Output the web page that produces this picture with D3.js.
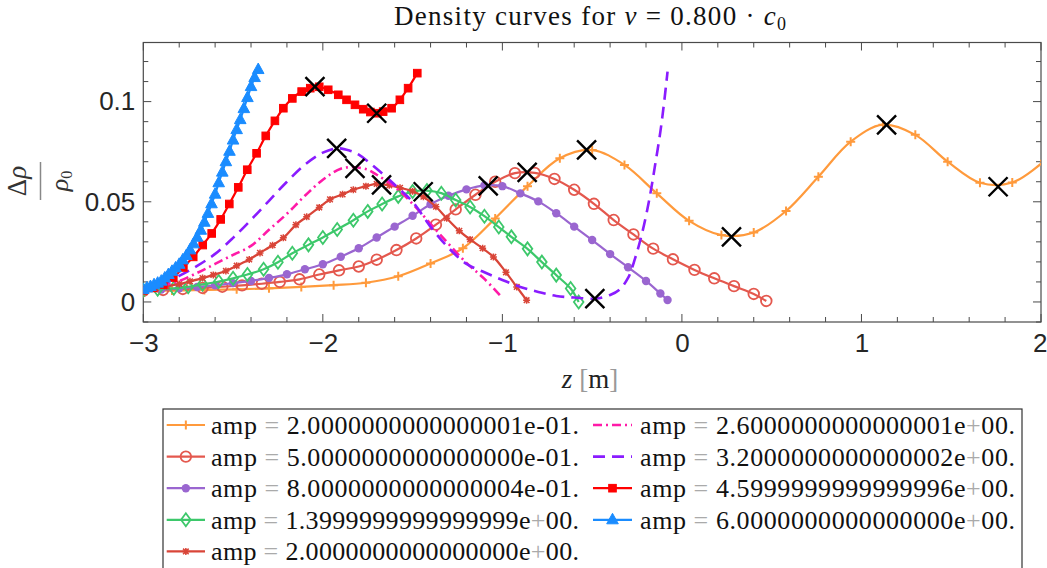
<!DOCTYPE html>
<html><head><meta charset="utf-8">
<script src="https://cdn.jsdelivr.net/npm/d3@7"></script>
<style>body{margin:0;background:#fff}svg{display:block}</style>
</head><body>
<svg id="chart" width="1047" height="568"></svg>
<script>
// ---------------- DATA ----------------
const ampLabels = [
  "2.0000000000000001e-01.", "5.0000000000000000e-01.", "8.0000000000000004e-01.",
  "1.3999999999999999e+00.", "2.0000000000000000e+00.", "2.6000000000000001e+00.",
  "3.2000000000000002e+00.", "4.5999999999999996e+00.", "6.0000000000000000e+00."
];
const xTicks = [-3, -2, -1, 0, 1, 2];
const yTicks = [0, 0.05, 0.1];

const zAmp02 = [-3.0,-2.84,-2.66,-2.48,-2.30,-2.12,-1.94,-1.76,-1.58,-1.40,-1.22,-1.04,-0.86,-0.68,-0.50,-0.32,-0.14,0.04,0.22,0.40,0.58,0.76,0.94,1.12,1.30,1.48,1.66,1.84,2.02];
const rhoAmp02 = [0.0055,0.0057,0.0060,0.0063,0.0068,0.0075,0.0084,0.0096,0.0128,0.0192,0.0268,0.0417,0.0578,0.0717,0.0758,0.0684,0.0542,0.0405,0.0334,0.0347,0.0454,0.0625,0.0800,0.0885,0.0834,0.0700,0.0595,0.0596,0.0705];

const zAmp05 = [-3.0,-2.89,-2.78,-2.67,-2.56,-2.45,-2.34,-2.24,-2.13,-2.02,-1.91,-1.80,-1.70,-1.59,-1.48,-1.37,-1.26,-1.15,-1.04,-0.93,-0.82,-0.71,-0.60,-0.49,-0.38,-0.27,-0.16,-0.05,0.07,0.18,0.29,0.40,0.47];
const rhoAmp05 = [0.0055,0.0060,0.0065,0.0070,0.0076,0.0083,0.0091,0.0100,0.0113,0.0137,0.0158,0.0177,0.0211,0.0259,0.0317,0.0386,0.0462,0.0535,0.0600,0.0643,0.0644,0.0614,0.0560,0.0490,0.0409,0.0337,0.0266,0.0213,0.0160,0.0118,0.0079,0.0040,0.0005];

const zAmp08 = [-3.0,-2.9,-2.8,-2.7,-2.6,-2.5,-2.4,-2.3,-2.2,-2.1,-2.0,-1.9,-1.8,-1.7,-1.6,-1.5,-1.4,-1.3,-1.2,-1.1,-1.0,-0.9,-0.8,-0.7,-0.6,-0.5,-0.4,-0.3,-0.2,-0.12,-0.08];
const rhoAmp08 = [0.0058,0.0062,0.0068,0.0075,0.0083,0.0094,0.0105,0.0120,0.0138,0.0163,0.0188,0.0226,0.0268,0.0322,0.0376,0.0430,0.0488,0.0530,0.0562,0.0582,0.0578,0.0542,0.0502,0.0443,0.0376,0.0309,0.0239,0.0173,0.0105,0.0042,0.0010];

const zAmp14 = [-3.0,-2.92,-2.83,-2.75,-2.67,-2.58,-2.50,-2.42,-2.33,-2.25,-2.17,-2.08,-2.00,-1.92,-1.83,-1.75,-1.67,-1.58,-1.50,-1.42,-1.34,-1.26,-1.18,-1.10,-1.02,-0.95,-0.86,-0.78,-0.70,-0.62,-0.575];
const rhoAmp14 = [0.0058,0.0063,0.0068,0.0076,0.0088,0.0102,0.0118,0.0137,0.0163,0.0198,0.0243,0.0285,0.0322,0.0362,0.0408,0.0452,0.0489,0.0527,0.0551,0.0556,0.0543,0.0509,0.0474,0.0428,0.0374,0.0325,0.0265,0.0199,0.0134,0.0067,0.0000];

const zAmp20 = [-3.0,-2.93,-2.87,-2.80,-2.74,-2.67,-2.61,-2.54,-2.48,-2.41,-2.35,-2.28,-2.22,-2.15,-2.09,-2.02,-1.96,-1.89,-1.83,-1.76,-1.70,-1.63,-1.57,-1.50,-1.44,-1.37,-1.31,-1.24,-1.18,-1.11,-1.05,-0.98,-0.92,-0.865];
const rhoAmp20 = [0.0060,0.0068,0.0078,0.0090,0.0103,0.0119,0.0135,0.0155,0.0181,0.0212,0.0245,0.0283,0.0320,0.0385,0.0425,0.0472,0.0512,0.0537,0.0560,0.0578,0.0589,0.0582,0.0570,0.0553,0.0525,0.0475,0.0418,0.0355,0.0312,0.0268,0.0225,0.0148,0.0075,0.0009];

const zAmp26 = [-3.0,-2.9,-2.8,-2.7,-2.6,-2.5,-2.4,-2.3,-2.2,-2.1,-2.0,-1.9,-1.82,-1.75,-1.7,-1.6,-1.5,-1.4,-1.3,-1.2,-1.1,-1.0];
const rhoAmp26 = [0.0060,0.0080,0.0105,0.0145,0.0190,0.0235,0.0280,0.0360,0.0440,0.0530,0.0610,0.0665,0.0672,0.0660,0.0635,0.0575,0.0490,0.0390,0.0290,0.0195,0.0115,0.0020];

const zAmp32 = [-3.0,-2.9,-2.8,-2.7,-2.6,-2.5,-2.4,-2.3,-2.2,-2.1,-2.0,-1.92,-1.85,-1.8,-1.7,-1.6,-1.5,-1.4,-1.3,-1.2,-1.1,-1.0,-0.9,-0.8,-0.7,-0.6,-0.48,-0.4,-0.35,-0.3,-0.26,-0.22,-0.18,-0.15,-0.12,-0.10,-0.08];
const rhoAmp32 = [0.0060,0.0085,0.0130,0.0180,0.0240,0.0320,0.0410,0.0505,0.0600,0.0685,0.0745,0.0767,0.0755,0.0735,0.0665,0.0585,0.0500,0.0375,0.0270,0.0190,0.0148,0.0110,0.0075,0.0050,0.0030,0.0022,0.0017,0.0035,0.0060,0.0120,0.0220,0.0350,0.0520,0.0680,0.0850,0.0990,0.1150];

const zAmp46 = [-3.0,-2.945,-2.889,-2.833,-2.777,-2.722,-2.669,-2.619,-2.569,-2.521,-2.471,-2.421,-2.369,-2.318,-2.267,-2.220,-2.170,-2.118,-2.070,-2.020,-1.970,-1.914,-1.868,-1.821,-1.775,-1.735,-1.697,-1.664,-1.617,-1.571,-1.525,-1.474];
const rhoAmp46 = [0.0058,0.0070,0.0087,0.0122,0.0172,0.0225,0.0284,0.0342,0.0412,0.0489,0.0572,0.0660,0.0742,0.0829,0.0904,0.0967,0.1016,0.1050,0.1067,0.1074,0.1059,0.1034,0.1009,0.0984,0.0962,0.0948,0.0942,0.0950,0.0967,0.1009,0.1067,0.1142];

const zAmp60 = [-3.00,-2.98,-2.96,-2.94,-2.92,-2.90,-2.88,-2.86,-2.84,-2.82,-2.80,-2.78,-2.76,-2.74,-2.72,-2.70,-2.68,-2.66,-2.64,-2.62,-2.60,-2.58,-2.56,-2.54,-2.52,-2.50,-2.48,-2.46,-2.44,-2.42,-2.40,-2.38,-2.36];
const rhoAmp60 = [0.0062,0.0070,0.0077,0.0086,0.0094,0.0104,0.0120,0.0137,0.0153,0.0170,0.0188,0.0210,0.0232,0.0260,0.0290,0.0323,0.0358,0.0398,0.0442,0.0490,0.0538,0.0595,0.0648,0.0700,0.0752,0.0808,0.0860,0.0910,0.0965,0.1020,0.1075,0.1120,0.1160];

const extremaZ = [-2.044,-1.700,-1.923,-1.821,-1.673,-1.441,-1.079,-0.862,-0.531,-0.485,0.276,1.140,1.761];
const extremaRho = [0.1075,0.0942,0.0767,0.0667,0.0584,0.0550,0.0579,0.0647,0.0759,0.0017,0.0325,0.0884,0.0575];

// ---------------- STYLE ----------------
const seriesStyle = [
  {z:zAmp02, r:rhoAmp02, color:"#FF9A3C", marker:"plus",    dash:null},
  {z:zAmp05, r:rhoAmp05, color:"#E4584E", marker:"circle",  dash:null},
  {z:zAmp08, r:rhoAmp08, color:"#9A66D0", marker:"dot",     dash:null},
  {z:zAmp14, r:rhoAmp14, color:"#3DC86B", marker:"diamond", dash:null},
  {z:zAmp20, r:rhoAmp20, color:"#D94538", marker:"star",    dash:null},
  {z:zAmp26, r:rhoAmp26, color:"#FF1AA8", marker:null,      dash:"9,4,2,4"},
  {z:zAmp32, r:rhoAmp32, color:"#8A1CFF", marker:null,      dash:"12,7"},
  {z:zAmp46, r:rhoAmp46, color:"#FF0000", marker:"square",  dash:null},
  {z:zAmp60, r:rhoAmp60, color:"#1A8CFF", marker:"triangle",dash:null}
];

const svg = d3.select("#chart");
svg.append("rect").attr("width",1047).attr("height",568).attr("fill","#fff");

const L = 143.3, R = 1041, T = 42.5, B = 322;
const x = d3.scaleLinear().domain([-3, 2]).range([L, R]);
const y = d3.scaleLinear().domain([-0.01, 0.1295]).range([B, T]);

svg.append("clipPath").attr("id","clip").append("rect")
  .attr("x",L).attr("y",T).attr("width",R-L).attr("height",B-T);

const serif = "'Liberation Serif','DejaVu Serif',serif";
const sans = "'Liberation Sans',Arial,sans-serif";

// title
const title = svg.append("text").attr("x",590).attr("y",25).attr("text-anchor","middle")
  .attr("font-family",serif).attr("font-size",27).attr("fill","#111")
  .attr("textLength",392).attr("lengthAdjust","spacing");
title.append("tspan").text("Density curves for ");
title.append("tspan").attr("font-style","italic").text("v");
title.append("tspan").text(" = 0.800 · ");
title.append("tspan").attr("font-style","italic").text("c");
title.append("tspan").attr("font-size",18).attr("dy",5).text("0");

// axes
const axisColor = "#4a4a4a";
const gx = svg.append("g").attr("transform",`translate(0,${B})`)
  .call(d3.axisBottom(x).tickValues(xTicks).tickSize(0).tickPadding(12).tickFormat(d => d < 0 ? "\u2212"+Math.abs(d) : d));
const gy = svg.append("g").attr("transform",`translate(${L},0)`)
  .call(d3.axisLeft(y).tickValues(yTicks).tickSize(0).tickPadding(8).tickFormat(d => d===0?"0":String(d)));
[gx,gy].forEach(g => {
  g.select(".domain").remove();
  g.selectAll("text").attr("font-family",sans).attr("font-size",26).attr("fill","#262626");
});
// keep the last x label inside the page
gx.selectAll(".tick").filter(d => d === 2).select("text").attr("text-anchor","end").attr("dx",6);

// inward ticks (major + minor) on all four sides
const tk = svg.append("g").attr("stroke",axisColor).attr("stroke-width",1);
const xMinor = d3.range(-3, 2.0001, 0.2);
xMinor.forEach(v => {
  const major = Math.abs(v - Math.round(v)) < 1e-6;
  const len = major ? 8 : 5;
  tk.append("line").attr("x1",x(v)).attr("x2",x(v)).attr("y1",B).attr("y2",B-len);
  tk.append("line").attr("x1",x(v)).attr("x2",x(v)).attr("y1",T).attr("y2",T+len);
});
const yMinor = d3.range(-0.01, 0.1295, 0.01);
yMinor.forEach(v => {
  const major = yTicks.some(t => Math.abs(t - v) < 1e-6);
  const len = major ? 8 : 5;
  tk.append("line").attr("x1",L).attr("x2",L+len).attr("y1",y(v)).attr("y2",y(v));
  tk.append("line").attr("x1",R).attr("x2",R-len).attr("y1",y(v)).attr("y2",y(v));
});
svg.append("rect").attr("x",L).attr("y",T).attr("width",R-L).attr("height",B-T)
  .attr("fill","none").attr("stroke",axisColor).attr("stroke-width",1.2);

// labels
const xl = svg.append("text").attr("x",590).attr("y",388).attr("text-anchor","middle")
  .attr("font-family",serif).attr("font-size",27).attr("fill","#222");
xl.append("tspan").attr("font-style","italic").text("z");
xl.append("tspan").attr("fill","#999").text(" [");
xl.append("tspan").text("m");
xl.append("tspan").attr("fill","#999").text("]");

const yl = svg.append("g").attr("transform","translate(40.5,181) rotate(-90)");
const ylNum = yl.append("text").attr("x",0).attr("y",-15).attr("text-anchor","middle")
  .attr("font-family",serif).attr("font-size",27).attr("fill","#333");
ylNum.append("tspan").text("Δ");
ylNum.append("tspan").attr("font-style","italic").text("ρ");
yl.append("line").attr("x1",-19).attr("x2",19).attr("y1",0).attr("y2",0).attr("stroke","#888").attr("stroke-width",1.5);
const ylDen = yl.append("text").attr("x",0).attr("y",27).attr("text-anchor","middle")
  .attr("font-family",serif).attr("font-size",26).attr("fill","#333");
ylDen.append("tspan").attr("font-style","italic").text("ρ");
ylDen.append("tspan").attr("font-size",16).attr("dy",4).text("0");

// markers
function drawMarker(g, type, cx, cy, color){
  const t = `translate(${cx},${cy})`;
  switch(type){
    case "plus":
      g.append("path").attr("transform",t).attr("d","M-4.5,0H4.5M0,-4.5V4.5")
        .attr("stroke",color).attr("stroke-width",2).attr("fill","none"); break;
    case "circle":
      g.append("circle").attr("cx",cx).attr("cy",cy).attr("r",5.3)
        .attr("fill","none").attr("stroke",color).attr("stroke-width",1.8); break;
    case "dot":
      g.append("circle").attr("cx",cx).attr("cy",cy).attr("r",4.2).attr("fill",color); break;
    case "diamond":
      g.append("path").attr("transform",t).attr("d","M0,-6.5L4.8,0L0,6.5L-4.8,0Z")
        .attr("fill","none").attr("stroke",color).attr("stroke-width",1.8); break;
    case "star":
      g.append("path").attr("transform",t).attr("d","M-3.5,0H3.5M0,-3.5V3.5M-2.8,-2.8L2.8,2.8M-2.8,2.8L2.8,-2.8")
        .attr("stroke",color).attr("stroke-width",1.5).attr("fill","none"); break;
    case "square":
      g.append("rect").attr("x",cx-3.8).attr("y",cy-3.8).attr("width",7.6).attr("height",7.6)
        .attr("fill",color).attr("stroke",color).attr("stroke-width",1); break;
    case "triangle":
      g.append("path").attr("transform",t).attr("d","M0,-6.5L5.8,4L-5.8,4Z")
        .attr("fill",color).attr("stroke",color).attr("stroke-width",1); break;
  }
}

// series
const plot = svg.append("g").attr("clip-path","url(#clip)");
const line = d3.line().x(d => x(d[0])).y(d => y(d[1])).curve(d3.curveCatmullRom.alpha(0.5));
seriesStyle.forEach(s => {
  const pts = s.z.map((z,i) => [z, s.r[i]]);
  const g = plot.append("g");
  g.append("path").attr("d", line(pts)).attr("fill","none").attr("stroke", s.color)
    .attr("stroke-width", s.dash ? 2.6 : 2.2).attr("stroke-dasharray", s.dash)
    .attr("stroke-linejoin","round");
  if (s.marker) pts.forEach(p => drawMarker(g, s.marker, x(p[0]), y(p[1]), s.color));
});

// extrema crosses
extremaZ.forEach((z,i) => {
  plot.append("path").attr("transform",`translate(${x(z)},${y(extremaRho[i])})`)
    .attr("d","M-9.5,-9.5L9.5,9.5M-9.5,9.5L9.5,-9.5").attr("stroke","#000").attr("stroke-width",2.4);
});

// legend
svg.append("rect").attr("x",163).attr("y",409).attr("width",859).attr("height",175)
  .attr("fill","#fff").attr("stroke","#333").attr("stroke-width",1.2);
const colX = [[166.7, 205, 211, 368], [593, 632, 640, 375]];
seriesStyle.forEach((s,i) => {
  const col = i < 5 ? 0 : 1;
  const row = i < 5 ? i : i - 5;
  const cy = 425 + row * 31.6;
  const [x1, x2, tx, tw] = colX[col];
  const g = svg.append("g");
  g.append("line").attr("x1",x1).attr("x2",x2).attr("y1",cy).attr("y2",cy)
    .attr("stroke",s.color).attr("stroke-width", s.dash ? 2.6 : 2.2).attr("stroke-dasharray", s.dash);
  if (s.marker) drawMarker(g, s.marker, (x1+x2)/2, cy, s.color);
  const label = ampLabels[i];
  const txt = g.append("text").attr("x",tx).attr("y",cy+9).attr("font-family",serif)
    .attr("font-size",26).attr("fill","#111").attr("textLength",tw).attr("lengthAdjust","spacing");
  txt.append("tspan").text("amp ");
  txt.append("tspan").attr("fill","#aaa").text("=");
  const m = label.match(/^(.*e)([+-])(.*)$/);
  txt.append("tspan").text(" " + m[1]);
  txt.append("tspan").attr("fill", m[2] === "+" ? "#aaa" : "#111").text(m[2]);
  txt.append("tspan").text(m[3]);
});
</script>
</body></html>
